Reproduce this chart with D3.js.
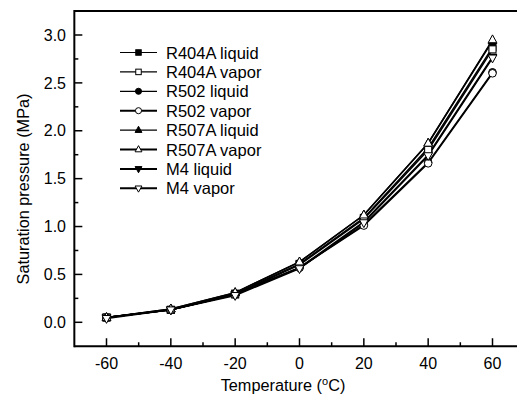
<!DOCTYPE html>
<html lang="en">
<head>
<meta charset="UTF-8">
<title>Saturation pressure</title>
<script src="https://d3js.org/d3.v7.min.js"></script>
<style>
  body { margin: 0; background: #fff; }
  text { font-family: Arial, "Liberation Sans", sans-serif; fill: #000; }
  .tick-label { font-size: 16px; }
  .axis-title { font-size: 16.3px; }
  .legend text { font-size: 16.5px; }
</style>
</head>
<body>
<svg id="chart" width="517" height="399"></svg>
<script>
// temperatures (ºC)
const temps = [-60, -40, -20, 0, 20, 40, 60];

// saturation pressure (MPa)
const r404aLiquid = [0.05, 0.13, 0.30, 0.61, 1.09, 1.82, 2.87];
const r404aVapor  = [0.05, 0.13, 0.29, 0.60, 1.08, 1.80, 2.85];
const r502Liquid  = [0.05, 0.13, 0.29, 0.57, 1.02, 1.67, 2.61];
const r502Vapor   = [0.05, 0.13, 0.29, 0.57, 1.01, 1.66, 2.60];
const r507aLiquid = [0.05, 0.14, 0.31, 0.63, 1.12, 1.87, 2.94];
const r507aVapor  = [0.05, 0.14, 0.31, 0.63, 1.12, 1.87, 2.95];
const m4Liquid    = [0.05, 0.13, 0.29, 0.57, 1.05, 1.75, 2.77];
const m4Vapor     = [0.04, 0.13, 0.28, 0.56, 1.04, 1.74, 2.76];

const seriesNames = ["R404A liquid", "R404A vapor", "R502 liquid", "R502 vapor",
                     "R507A liquid", "R507A vapor", "M4 liquid", "M4 vapor"];
const seriesValues = [r404aLiquid, r404aVapor, r502Liquid, r502Vapor,
                      r507aLiquid, r507aVapor, m4Liquid, m4Vapor];
const seriesShapes = ["square", "square", "circle", "circle",
                      "triangle", "triangle", "triangleDown", "triangleDown"];
const seriesFilled = [true, false, true, false, true, false, true, false];

const xTicks = [-60, -40, -20, 0, 20, 40, 60];
const yTicks = [0.0, 0.5, 1.0, 1.5, 2.0, 2.5, 3.0];

const svg = d3.select("#chart");

const x = d3.scaleLinear().domain([-60, 60]).range([106.5, 492.5]);
const y = d3.scaleLinear().domain([0, 3]).range([322.3, 35]);
const x0 = x(-70), yTop = y(3.25), yBot = y(-0.25);

// frame: left, bottom, top (right side is cut off)
const frame = svg.append("g").attr("stroke", "#000").attr("stroke-width", 2).attr("fill", "none");
frame.append("line").attr("x1", x0).attr("x2", 517).attr("y1", yTop).attr("y2", yTop);
frame.append("line").attr("x1", x0).attr("x2", 517).attr("y1", yBot).attr("y2", yBot);
frame.append("line").attr("x1", x0).attr("x2", x0).attr("y1", yTop - 1).attr("y2", yBot + 1);

// ticks (inward)
const tk = svg.append("g").attr("stroke", "#000").attr("stroke-width", 1.5);
d3.range(-60, 81, 10).forEach(v => {
  const len = v % 20 === 0 ? 8 : 4;
  tk.append("line").attr("x1", x(v)).attr("x2", x(v)).attr("y1", yBot).attr("y2", yBot - len);
});
d3.range(0, 13).map(i => i * 0.25).forEach((v, i) => {
  const len = i % 2 === 0 ? 8 : 4;
  tk.append("line").attr("x1", x0).attr("x2", x0 + len).attr("y1", y(v)).attr("y2", y(v));
});

svg.selectAll(".xl").data(xTicks).enter().append("text")
  .attr("class", "tick-label")
  .attr("x", d => x(d)).attr("y", 369)
  .attr("text-anchor", "middle")
  .text(d => d);

svg.selectAll(".yl").data(yTicks).enter().append("text")
  .attr("class", "tick-label")
  .attr("x", 66).attr("y", d => y(d) + 5.7)
  .attr("text-anchor", "end")
  .text(d => d.toFixed(1));

svg.append("text").attr("class", "axis-title")
  .attr("x", 283).attr("y", 391).attr("text-anchor", "middle")
  .html("Temperature (<tspan font-size='11' dy='-6'>o</tspan><tspan dy='6'>C)</tspan>");

svg.append("text").attr("class", "axis-title")
  .attr("transform", "translate(29,189) rotate(-90)")
  .attr("text-anchor", "middle")
  .text("Saturation pressure (MPa)");

// marker drawing
function marker(g, shape, filled, cx, cy, s) {
  const fill = filled ? "#000" : "#fff";
  let el;
  if (shape === "square") {
    el = g.append("rect").attr("x", cx - s / 2).attr("y", cy - s / 2).attr("width", s).attr("height", s);
  } else if (shape === "circle") {
    el = g.append("circle").attr("cx", cx).attr("cy", cy).attr("r", s / 2 + 0.3);
  } else if (shape === "triangle") {
    el = g.append("path").attr("d", `M${cx},${cy - s * 0.7}L${cx + s * 0.62},${cy + s * 0.42}L${cx - s * 0.62},${cy + s * 0.42}Z`);
  } else {
    el = g.append("path").attr("d", `M${cx},${cy + s * 0.7}L${cx + s * 0.62},${cy - s * 0.42}L${cx - s * 0.62},${cy - s * 0.42}Z`);
  }
  el.attr("fill", fill).attr("stroke", "#000").attr("stroke-width", 1);
}

const line = d3.line().x((d, i) => x(temps[i])).y(d => y(d));
const plot = svg.append("g");
seriesValues.forEach(vals => {
  plot.append("path").datum(vals)
    .attr("d", line)
    .attr("fill", "none").attr("stroke", "#000").attr("stroke-width", 1.5);
});
// filled markers first, open ones on top
[0, 2, 4, 6, 1, 3, 5, 7].forEach(k => {
  seriesValues[k].forEach((v, i) => marker(plot, seriesShapes[k], seriesFilled[k], x(temps[i]), y(v), 7));
});

// legend
const lg = svg.append("g").attr("class", "legend");
seriesNames.forEach((name, i) => {
  const cy = 52.5 + i * 19.4;
  const sw = (i === 3 || i === 5 || i === 6 || i === 7) ? 2 : 1.2;
  lg.append("line").attr("x1", 120).attr("x2", 157).attr("y1", cy).attr("y2", cy)
    .attr("stroke", "#000").attr("stroke-width", sw);
  marker(lg, seriesShapes[i], seriesFilled[i], 138.5, cy, 5.5);
  lg.append("text").attr("x", 166).attr("y", cy + 6).text(name);
});
</script>
</body>
</html>
